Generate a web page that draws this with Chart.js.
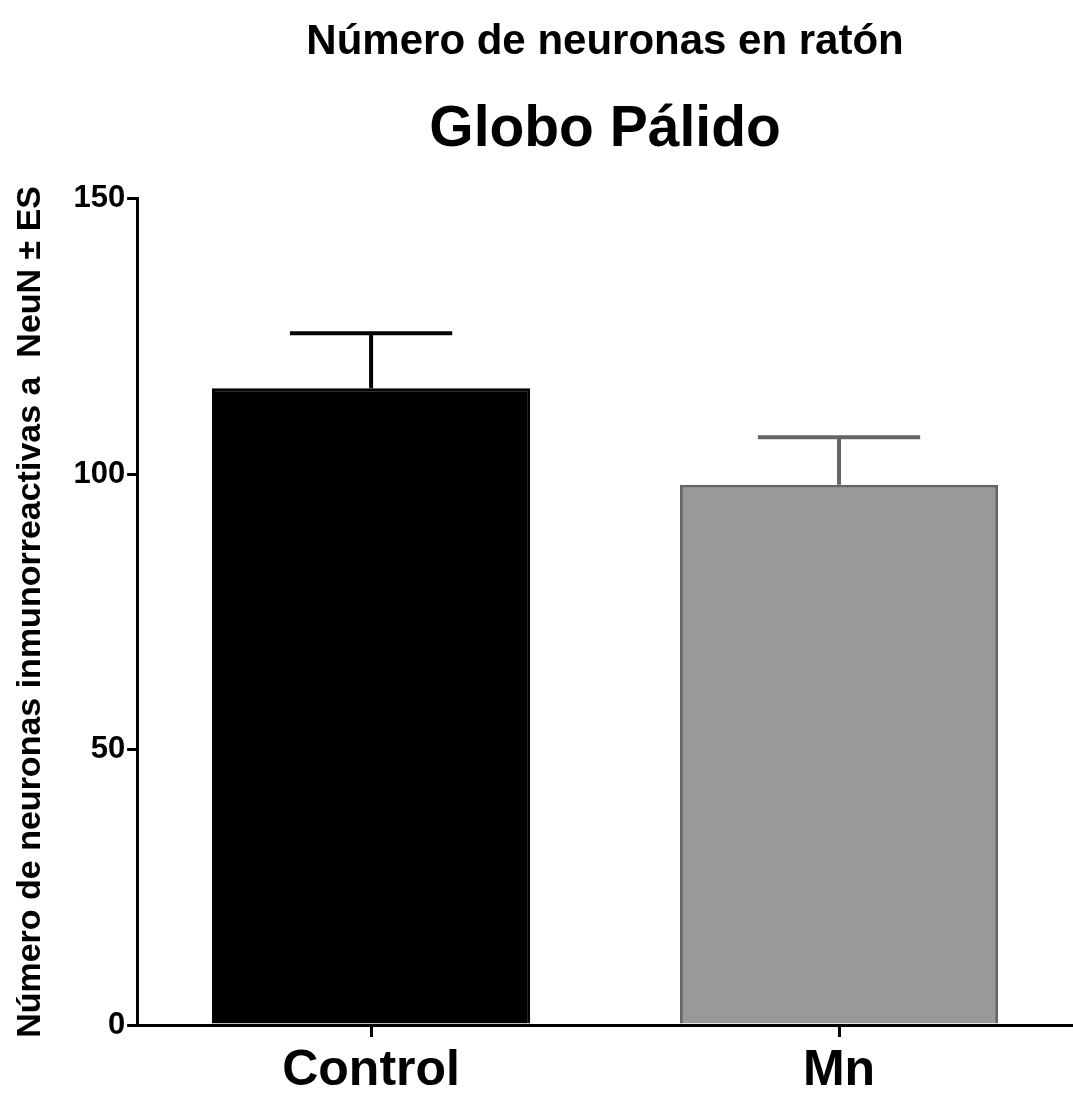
<!DOCTYPE html>
<html>
<head>
<meta charset="utf-8">
<script src="https://cdn.jsdelivr.net/npm/chart.js@4"></script>
<style>
  html, body { margin: 0; padding: 0; background: #fff; }
  #wrap { width: 1073px; height: 1097px; }
</style>
</head>
<body>
<div id="wrap"><canvas id="grafico" width="1073" height="1097"></canvas></div>
<script>
// Datos
const grupos = ["Control", "Mn"];
const medias = [115.6, 98.1];
const errores = [10.0, 8.6];
const ticksY = [0, 50, 100, 150];

const relleno = ["#000000", "#999999"];
const bordes = ["#000000", "#666666"];

// barras de error (media + ES)
const barrasError = {
  id: "barrasError",
  afterDatasetsDraw(chart, args, opts) {
    const ctx = chart.ctx;
    const y = chart.scales.y;
    const meta = chart.getDatasetMeta(0);
    meta.data.forEach((bar, i) => {
      const top = y.getPixelForValue(medias[i] + errores[i]);
      const half = bar.width * opts.cap / 2;
      ctx.save();
      ctx.strokeStyle = bordes[i];
      ctx.lineWidth = 4;
      ctx.beginPath();
      ctx.moveTo(bar.x, bar.y);
      ctx.lineTo(bar.x, top);
      ctx.moveTo(bar.x - half, top);
      ctx.lineTo(bar.x + half, top);
      ctx.stroke();
      ctx.restore();
    });
  }
};

const fuente = "'Liberation Sans', Arial, sans-serif";

new Chart(document.getElementById("grafico"), {
  type: "bar",
  data: {
    labels: grupos,
    datasets: [{
      data: medias,
      backgroundColor: relleno,
      borderColor: bordes,
      borderWidth: 3,
      barPercentage: 0.68,
      categoryPercentage: 1
    }]
  },
  plugins: [barrasError],
  options: {
    responsive: false,
    animation: false,
    layout: { padding: { top: 0, right: 0, bottom: -8, left: 12 } },
    plugins: {
      legend: { display: false },
      tooltip: { enabled: false },
      title: {
        display: true,
        fullSize: false,
        text: "Número de neuronas en ratón",
        color: "#000",
        font: { family: fuente, size: 42, weight: "bold", lineHeight: 1.2 },
        padding: { top: 17, bottom: 29 }
      },
      subtitle: {
        display: true,
        fullSize: false,
        text: "Globo Pálido",
        color: "#000",
        font: { family: fuente, size: 57, weight: "bold", lineHeight: 1.2 },
        padding: { top: 0, bottom: 34 }
      },
      barrasError: { cap: 0.51 }
    },
    scales: {
      x: {
        grid: { display: true, drawOnChartArea: false, offset: false, color: "#000", lineWidth: 3, tickLength: 12 },
        border: { color: "#000", width: 3 },
        ticks: { color: "#000", font: { family: fuente, size: 50, weight: "bold", lineHeight: 0.96 }, padding: 10 }
      },
      y: {
        min: 0,
        max: 150,
        afterBuildTicks: (s) => { s.ticks = ticksY.map(v => ({ value: v })); },
        grid: { display: true, drawOnChartArea: false, color: "#000", lineWidth: 3, tickLength: 10 },
        border: { color: "#000", width: 3 },
        ticks: { color: "#000", font: { family: fuente, size: 31, weight: "bold" }, padding: 2 },
        title: {
          display: true,
          text: "Número de neuronas inmunorreactivas a  NeuN ± ES",
          color: "#000",
          font: { family: fuente, size: 34, weight: "bold", lineHeight: 1.1 },
          padding: { top: 0, bottom: 22 }
        }
      }
    }
  }
});
</script>
</body>
</html>
